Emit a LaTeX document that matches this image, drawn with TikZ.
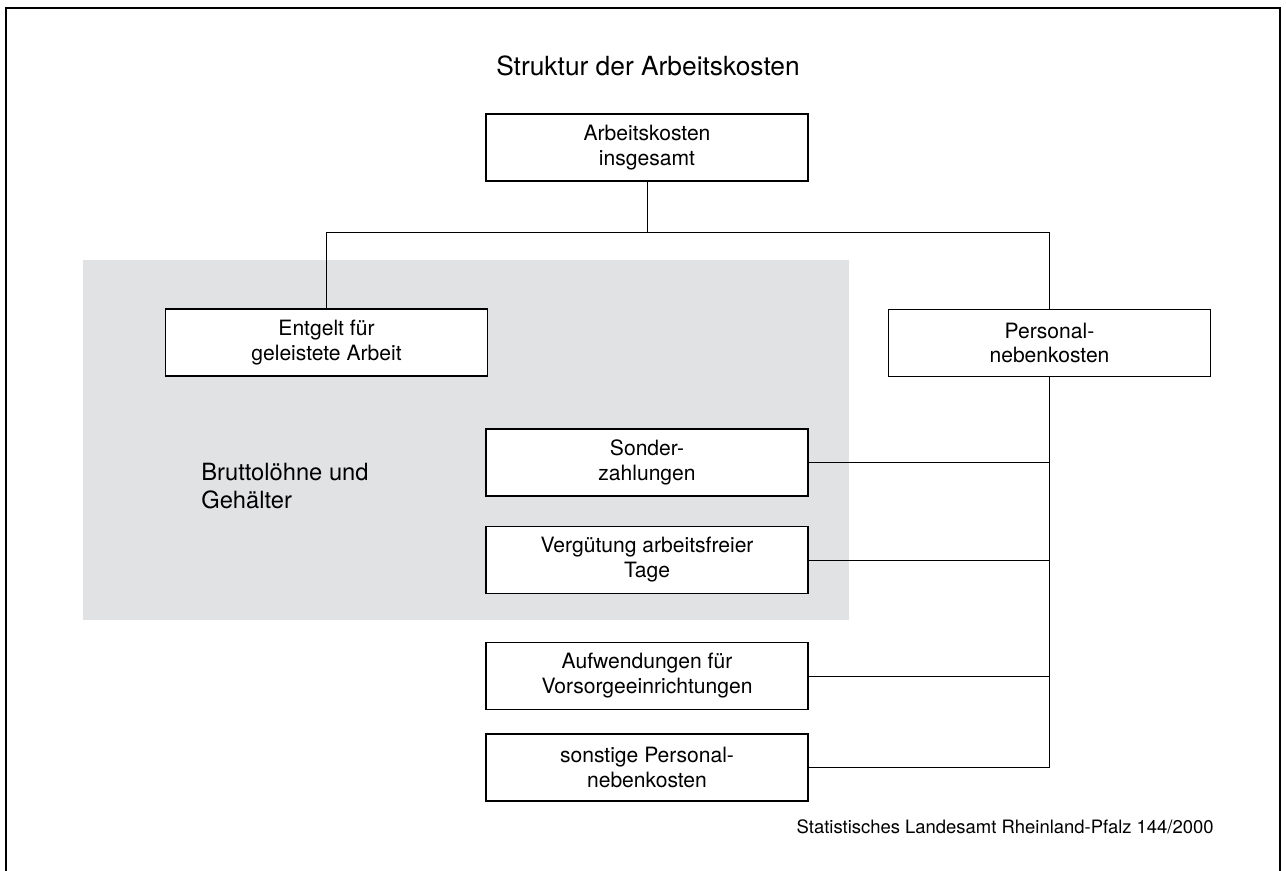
\documentclass[tikz,border=0pt]{standalone}
\usepackage{fontspec}
\setmainfont{TeX Gyre Heros}
\definecolor{boxgray}{RGB}{225,226,228}

\begin{document}
\begin{tikzpicture}[x=0.02cm, y=-0.02cm,
    box/.style={draw, line width=0.9pt, fill=white, inner sep=0pt,
      minimum width=6.44cm, minimum height=1.34cm, align=center,
      font=\fontsize{12}{14.2}\selectfont},
    link/.style={line width=0.55pt}]
  \useasboundingbox (0,0) rectangle (1286,871);
  \draw[line width=0.8pt] (6,871) -- (6,8) -- (1280,8) -- (1280,871);
  \fill[boxgray] (83,260) rectangle (849,620);

  \node[anchor=base, inner sep=0pt, font=\fontsize{15}{18}\selectfont] (title) at (648,76) {Struktur der Arbeitskosten};
  \node[box] (total) at (647,147.5) {Arbeitskosten\\insgesamt};
  \node[box] (entgelt) at (326.5,342.5) {Entgelt für\\geleistete Arbeit};
  \node[box] (personal) at (1049.5,343) {Personal-\\nebenkosten};
  \node[box] (sonder) at (647,462.5) {Sonder-\\zahlungen};
  \node[box] (verg) at (647,560) {Vergütung arbeitsfreier\\Tage};
  \node[box] (vorsorge) at (647,676) {Aufwendungen für\\Vorsorgeeinrichtungen};
  \node[box] (sonstige) at (647,767.5) {sonstige Personal-\\nebenkosten};
  \node[anchor=west, align=left, inner sep=0pt, font=\fontsize{13.5}{16}\selectfont] (brutto) at (201,486) {Bruttolöhne und\\Gehälter};
  \node[anchor=base east, inner sep=0pt, font=\fontsize{10.5}{12}\selectfont] (quelle) at (1214,833) {Statistisches Landesamt Rheinland-Pfalz 144/2000};

  \coordinate (split) at (647,232);
  \draw[link] (total) -- (split);
  \draw[link] (split) -| (entgelt.north);
  \draw[link] (split) -| (personal.north);
  \draw[link] (sonstige.east) -| (personal.south);
  \draw[link] (sonder.east) -- (sonder.east -| personal.south);
  \draw[link] (verg.east) -- (verg.east -| personal.south);
  \draw[link] (vorsorge.east) -- (vorsorge.east -| personal.south);
\end{tikzpicture}
\end{document}
